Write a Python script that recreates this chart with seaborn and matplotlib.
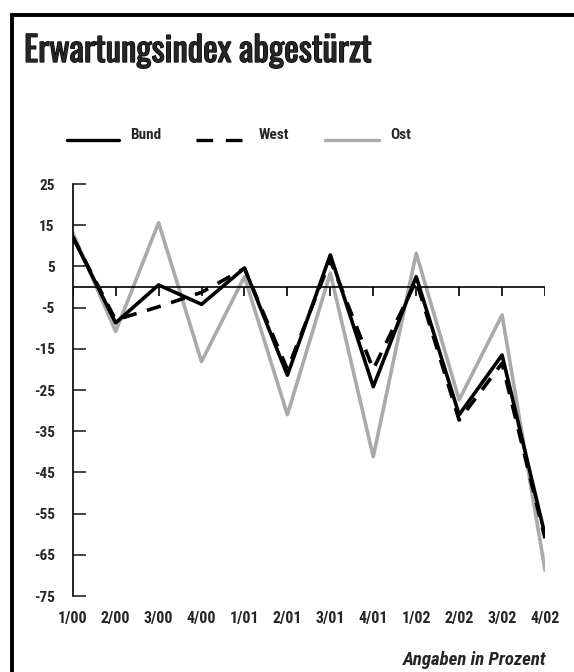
import pandas as pd
import numpy as np
import seaborn as sns
import matplotlib.pyplot as plt
import matplotlib.patheffects as pe
from matplotlib.patches import Rectangle
from matplotlib.lines import Line2D

quarters = ['1/00', '2/00', '3/00', '4/00', '1/01', '2/01',
            '3/01', '4/01', '1/02', '2/02', '3/02', '4/02']
bund = [12.2, -8.7, 0.5, -4.2, 4.6, -21.4, 7.8, -24.2, 2.5, -31.0, -16.5, -60.2]
west = [12.2, -8.0, -4.8, -1.3, 4.5, -20.0, 6.5, -20.0, 1.5, -32.3, -18.5, -61.0]
ost = [13.2, -10.8, 15.6, -18.1, 2.5, -31.0, 3.4, -41.2, 8.2, -27.4, -6.8, -68.7]

df = pd.DataFrame({'quarter': quarters, 'pos': range(len(quarters)),
                   'Bund': bund, 'West': west, 'Ost': ost})

sns.set_style('white')
plt.rcParams['font.family'] = ['Roboto Condensed', 'Archivo Narrow',
                               'PT Sans Narrow', 'DejaVu Sans']

fig = plt.figure(figsize=(5.74, 6.72), dpi=100)
W, H = 574, 672

# frame round the whole chart (open at right and bottom)
fig.patches.append(Rectangle((12 / W, -0.05), 1.1, (672 - 15) / H + 0.05,
                             transform=fig.transFigure, fill=False,
                             lw=2.8, ec='black'))

# condensed title; the installed Oswald is light, so thicken it with a stroke
fig.text(24 / W, 1 - 62 / H, 'Erwartungsindex abgestürzt',
         fontsize=25, fontweight='bold', ha='left', va='baseline',
         family=['Oswald', 'Roboto Condensed', 'DejaVu Sans'],
         path_effects=[pe.withStroke(linewidth=0.9, foreground='black')])

ax = fig.add_axes([72.7 / W, 1 - 596 / H, 472.3 / W, 412 / H])

grey = '#aaaaaa'
sns.lineplot(data=df, x='pos', y='Ost', ax=ax, color=grey, lw=2.6)
sns.lineplot(data=df, x='pos', y='West', ax=ax, color='black', lw=2.6,
             linestyle=(0, (4, 3)))
sns.lineplot(data=df, x='pos', y='Bund', ax=ax, color='black', lw=2.6)

ax.set_xlim(0, 11)
ax.set_ylim(-75, 25)
for s in ['top', 'right', 'bottom']:
    ax.spines[s].set_visible(False)
ax.spines['left'].set_linewidth(1.2)
ax.spines['left'].set_color('black')

# zero line with ticks
ax.axhline(0, color='black', lw=1.2, xmin=0, xmax=1)
for p in df['pos']:
    ax.plot([p, p], [0, -2.2], color='black', lw=1.2, solid_capstyle='butt')

ax.set_yticks(np.arange(-75, 26, 10))
ax.set_yticklabels([str(v) for v in np.arange(-75, 26, 10)],
                   fontsize=11, fontweight='bold')
ax.tick_params(axis='y', direction='in', length=9, width=1.2, pad=13,
               left=True)
ax.set_xticks(df['pos'])
ax.set_xticklabels(quarters, fontsize=11.5, fontweight='bold')
ax.tick_params(axis='x', length=0, pad=11)
ax.set_xlabel('')
ax.set_ylabel('')

# legend row
def leg(x0, x1, tx, label, **kw):
    fig.add_artist(Line2D([x0 / W, x1 / W], [1 - 140 / H] * 2,
                          transform=fig.transFigure, **kw))
    fig.text(tx / W, 1 - 135 / H, label, fontsize=11,
             fontweight='bold', va='center', ha='left')

leg(67, 119, 130, 'Bund', color='black', lw=2.4)
leg(196, 243, 259, 'West', color='black', lw=2.4, linestyle=(0, (5, 3.8)))
leg(325, 379, 390, 'Ost', color=grey, lw=2.4)

fig.text(546 / W, 1 - 660 / H, 'Angaben in Prozent', fontsize=13.5,
         fontweight='bold', style='italic', ha='right', va='center')

fig.savefig('out.png', dpi=100)
